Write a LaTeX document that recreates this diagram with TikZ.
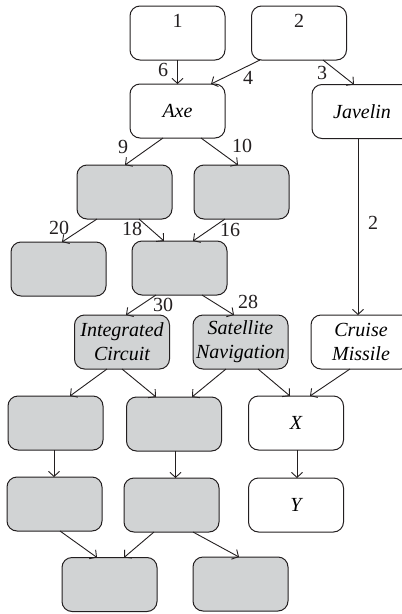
\documentclass[tikz,border=0pt]{standalone}
\usepackage{fontspec}
\setmainfont{Liberation Serif}
\usetikzlibrary{arrows.meta,calc}
\definecolor{boxgray}{HTML}{D1D3D4}
\definecolor{ink}{HTML}{231F20}
\begin{document}
\begin{tikzpicture}[x=1pt,y=-1pt,
  box/.style={draw=ink,line width=1pt,rounded corners=10pt,minimum width=95pt,minimum height=54pt,inner sep=0pt,outer sep=0pt,fill=white,font=\fontsize{20}{24}\selectfont\itshape,align=center},
  gbox/.style={box,fill=boxgray},
  rbox/.style={box,text width=100pt},
  arr/.style={draw=ink,line width=0.9pt,-{Straight Barb[length=5pt,width=11pt]}},
  lab/.style={font=\fontsize{20}{22}\selectfont,inner sep=0pt,text=ink}]
\useasboundingbox (0,0) rectangle (402,614);
\begin{scope}
\clip (0,0) rectangle (402,614);
% row 1
\node[box] (b1) at (177.5,33) {};
\node[box] (b2) at (299,33) {};
\node[lab] (t1) at ([yshift=-15pt]b1.north) {1};
\node[lab] (t2) at ([yshift=-15pt]b2.north) {2};
% row 2
\node[box] (axe) at (177.5,111) {Axe};
\node[rbox] (jav) at (362,111.5) {Javelin};
% row 3
\node[gbox] (g1) at (124.5,192) {};
\node[gbox] (g2) at (241.5,192) {};
% row 4
\node[gbox] (g3) at (58.5,269) {};
\node[gbox] (g4) at (179.5,268) {};
% row 5
\node[gbox] (ic) at (122,342) {Integrated\\Circuit};
\node[gbox] (sn) at (240.5,342) {Satellite\\Navigation};
\node[rbox] (cm) at (361,342) {Cruise\\Missile};
% row 6
\node[gbox] (g5) at (55.5,423) {};
\node[gbox] (g6) at (174,424) {};
\node[box] (xx) at (296,423) {X};
% row 7
\node[gbox] (g7) at (54.5,504) {};
\node[gbox] (g8) at (171.5,505) {};
\node[box] (yy) at (296,505) {Y};
% row 8
\node[gbox] (g9) at (109.5,584.5) {};
\node[gbox] (g10) at (240.5,584) {};
\end{scope}
% connectors
\draw[arr] (b1.south) -- (axe.north);
\draw[arr] ([xshift=-39pt]b2.south) -- ([xshift=33.5pt]axe.north);
\draw[arr] ([xshift=24pt]b2.south) -- ([xshift=-8pt]jav.north);
\draw[arr] ([xshift=-14.5pt]axe.south) -- ([xshift=0.5pt]g1.north);
\draw[arr] ([xshift=23.5pt]axe.south) -- ([xshift=-3.5pt]g2.north);
\draw[arr] ([xshift=-4pt]jav.south) -- ([xshift=-3pt]cm.north);
\draw[arr] ([xshift=-27.5pt]g1.south) -- ([xshift=3.5pt]g3.north);
\draw[arr] ([xshift=14.5pt]g1.south) -- ([xshift=-15.5pt]g4.north);
\draw[arr] ([xshift=-16.5pt]g2.south) -- ([xshift=13.5pt]g4.north);
\draw[arr] ([xshift=-23.5pt]g4.south) -- ([xshift=4pt]ic.north);
\draw[arr] ([xshift=22.5pt]g4.south) -- ([xshift=-6.5pt]sn.north);
\draw[arr] ([xshift=-15pt]ic.south) -- ([xshift=14.5pt]g5.north);
\draw[arr] (ic.south) -- ([xshift=-18pt]g6.north);
\draw[arr] ([xshift=-14.5pt]sn.south) -- ([xshift=18pt]g6.north);
\draw[arr] ([xshift=17.5pt]sn.south) -- ([xshift=-6pt]xx.north);
\draw[arr] ([xshift=-11pt]cm.south) -- ([xshift=14pt]xx.north);
\draw[arr] ([xshift=-1.5pt]g5.south) -- ([xshift=-1.5pt]g5.south |- g7.north);
\draw[arr] ([xshift=1.5pt]g6.south) -- ([xshift=1.5pt]g6.south |- g8.north);
\draw[arr] ([xshift=1pt]xx.south) -- ([xshift=1pt]yy.north);
\draw[arr] ([xshift=5.5pt]g7.south) -- ([xshift=-12.5pt]g9.north);
\draw[arr] ([xshift=-17.5pt]g8.south) -- ([xshift=14.5pt]g9.north);
\draw[arr] ([xshift=21.5pt]g8.south) -- ([xshift=-1.5pt]g10.north);
% edge labels
\node[lab] (l6) at (163,70) {6};
\node[lab] (l4) at (248,78) {4};
\node[lab] (l3) at (322,73) {3};
\node[lab] (l9) at (123,147) {9};
\node[lab] (l10) at (242,146) {10};
\node[lab] (l2) at (373,223) {2};
\node[lab] (l20) at (59,228) {20};
\node[lab] (l18) at (132,229) {18};
\node[lab] (l16) at (230,230) {16};
\node[lab] (l30) at (163,305) {30};
\node[lab] (l28) at (248,302) {28};
\end{tikzpicture}
\end{document}
